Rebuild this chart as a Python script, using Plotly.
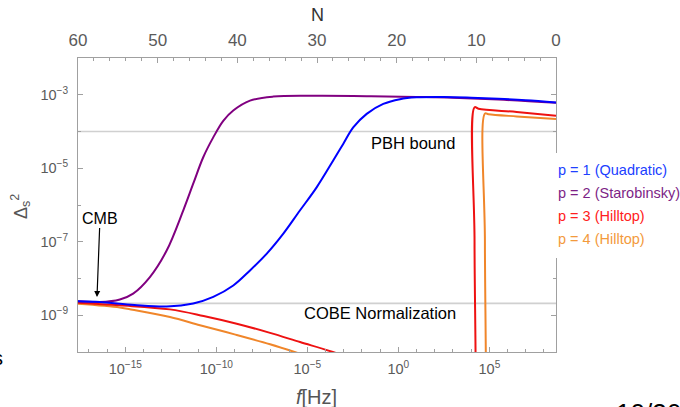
import numpy as np
import plotly.graph_objects as go

# ---------------- data (log10 of f[Hz] and log10 of Delta_s^2) -------------
blue_logf = [-17.6, -16.4, -14.5, -12.73, -11.27, -10.17, -9.07, -8.15, -7.24, -6.32, -5.41, -4.49,
             -3.58, -3.03, -2.48, -1.74, -0.83, 0.09, 1.0, 2.5, 4.0, 5.5, 7.0, 8.66]
blue_logP = [-8.62, -8.64, -8.72, -8.76, -8.68, -8.50, -8.19, -7.78, -7.33, -6.78, -6.15, -5.52,
             -4.79, -4.34, -3.89, -3.52, -3.25, -3.12, -3.07, -3.06, -3.08, -3.11, -3.15, -3.21]

purple_logf = [-17.6, -16.4, -15.3, -14.57, -13.65, -12.73, -11.82, -11.27, -10.72, -10.17, -9.62,
               -9.07, -8.15, -6.87, -4.49, -1.5, 1.0, 3.0, 5.5, 8.66]
purple_logP = [-8.62, -8.64, -8.57, -8.41, -7.96, -7.24, -6.15, -5.42, -4.70, -4.16, -3.71,
               -3.43, -3.16, -3.05, -3.03, -3.04, -3.06, -3.08, -3.13, -3.22]

red_logf = [-17.6, -15.3, -12.55, -10.7, -8.88, -7.05, -5.4, -3.6, -1.0, 2.0, 4.1, 4.18,
            4.185, 4.19, 4.4, 6.5, 8.66]
red_logP = [-8.66, -8.73, -8.84, -9.02, -9.23, -9.48, -9.73, -10.0, -10.45, -11.1, -11.6, -11.7,
            -7.0, -3.34, -3.38, -3.47, -3.57]

orange_logf = [-17.6, -15.3, -14.6, -12.55, -10.9, -9.0, -7.05, -5.7, -3.0, 0.0, 4.68, 4.75,
               4.755, 4.76, 4.95, 6.5, 8.66]
orange_logP = [-8.69, -8.79, -8.85, -9.05, -9.27, -9.52, -9.79, -10.0, -10.45, -11.0, -11.8, -11.9,
               -7.0, -3.51, -3.53, -3.59, -3.66]

series_names = ["p = 1 (Quadratic)", "p = 2 (Starobinsky)", "p = 3 (Hilltop)", "p = 4 (Hilltop)"]
line_colors = ["#0000ff", "#800080", "#ee1111", "#f0862a"]
text_colors = ["#2040ff", "#7d1f86", "#ff2020", "#f39a3c"]

pbh_bound = 1e-4
cobe_norm = 2.1e-9

x_tick_exps = [-15, -10, -5, 0, 5]
y_tick_exps = [-3, -5, -7, -9]
N_ticks = [60, 50, 40, 30, 20, 10, 0]

f_range_log = [-17.6, 8.66]
P_range_log = [-10, -2]

# ---------------- figure -------------
fig = go.Figure()

def tenpow(a):
    return list(10.0 ** np.array(a, dtype=float))

# reference lines
for val in (pbh_bound, cobe_norm):
    fig.add_trace(go.Scatter(x=[10 ** f_range_log[0], 10 ** f_range_log[1]], y=[val, val],
                             mode="lines", line=dict(color="#d0d0d0", width=1.6),
                             hoverinfo="skip", showlegend=False))

order = [(orange_logf, orange_logP, 3), (red_logf, red_logP, 2),
         (purple_logf, purple_logP, 1), (blue_logf, blue_logP, 0)]
for lf, lp, i in order:
    fig.add_trace(go.Scatter(x=tenpow(lf), y=tenpow(lp), mode="lines", name=series_names[i],
                             line=dict(color=line_colors[i], width=2, shape="spline", smoothing=1.0),
                             showlegend=False))

# dummy trace for the top N axis
fig.add_trace(go.Scatter(x=[60, 0], y=[1e-30, 1e-30], xaxis="x2", mode="lines",
                         line=dict(width=0), hoverinfo="skip", showlegend=False))

FONT = "Liberation Sans, Arial, Helvetica, sans-serif"
AXC = "#a0a0a0"
TICKC = "#5a5a5a"

def sup(e):
    return "10<sup>" + ("\u2212" + str(-e) if e < 0 else str(e)) + "</sup>"

fig.update_layout(
    width=680, height=407,
    margin=dict(l=78, r=124, t=58, b=55),
    paper_bgcolor="white", plot_bgcolor="white",
    font=dict(family=FONT, color=TICKC),
    xaxis=dict(type="log", range=f_range_log, showgrid=False, zeroline=False,
               showline=True, linecolor=AXC, linewidth=1, mirror=False,
               ticks="inside", ticklen=5, tickcolor=AXC, tickwidth=1,
               tickvals=[10.0 ** e for e in x_tick_exps], ticktext=[sup(e) for e in x_tick_exps],
               tickfont=dict(size=14.5, color=TICKC), ticklabelstandoff=4,
               minor=dict(tickvals=[10.0 ** e for e in range(-17, 9)], ticklen=3,
                          tickcolor=AXC, tickwidth=1, ticks="inside", showgrid=False)),
    xaxis2=dict(overlaying="x", side="top", range=[60, 0], showgrid=False, zeroline=False,
                showline=True, linecolor=AXC, linewidth=1, anchor="y",
                ticks="inside", ticklen=5, tickcolor=AXC, tickwidth=1,
                tickvals=N_ticks, ticktext=[str(n) for n in N_ticks],
                tickfont=dict(size=17, color=TICKC), ticklabelstandoff=4,
                minor=dict(tickvals=list(range(0, 61, 2)), ticklen=3, tickcolor=AXC,
                           tickwidth=1, ticks="inside", showgrid=False)),
    yaxis=dict(type="log", range=P_range_log, showgrid=False, zeroline=False,
               showline=True, linecolor=AXC, linewidth=1, mirror="ticks",
               ticks="inside", ticklen=5, tickcolor=AXC, tickwidth=1,
               tickvals=[10.0 ** e for e in y_tick_exps], ticktext=[sup(e) for e in y_tick_exps],
               tickfont=dict(size=14.5, color=TICKC), ticklabelstandoff=6,
               minor=dict(tickvals=[10.0 ** e for e in range(-10, -1)], ticklen=3,
                          tickcolor=AXC, tickwidth=1, ticks="inside", showgrid=False)),
)

def px(x):
    return (x - 78) / 478.0

def py(y):
    return (352 - y) / 294.0

# white legend box covering the frame
fig.add_shape(type="rect", xref="paper", yref="paper", x0=px(549), x1=px(690),
              y0=py(258), y1=py(153), fillcolor="white", line=dict(width=0), layer="above")

ann = []
legend_y = [170, 193, 216, 239]
for i in range(4):
    ann.append(dict(xref="paper", yref="paper", x=px(556), y=py(legend_y[i]), xanchor="left",
                    yanchor="middle", text=series_names[i], showarrow=False,
                    font=dict(size=14.5, color=text_colors[i], family=FONT)))

def label(x, y, text, size, color="black", xa="center", ya="middle", **kw):
    d = dict(xref="paper", yref="paper", x=px(x), y=py(y), text=text, showarrow=False,
             xanchor=xa, yanchor=ya, font=dict(size=size, color=color, family=FONT))
    d.update(kw)
    return d

# in-plot labels
ann.append(label(413, 143, "PBH bound", 16.5))
ann.append(label(380, 313, "COBE Normalization", 16.5))
ann.append(dict(xref="paper", yref="paper", x=px(97), y=py(297), ax=3, ay=-79,
                xanchor="center", yanchor="middle",
                text="CMB", showarrow=True, arrowhead=2, arrowsize=1, arrowwidth=1.2,
                arrowcolor="black", standoff=0, startstandoff=0,
                font=dict(size=16, color="black", family=FONT)))

# axis titles
ann.append(label(317, 15, "N", 18, "#333333"))
ann.append(label(316, 397, "<i>f</i>[Hz]", 20, "#555555"))
ann.append(label(20, 207, "\u0394<sub>s</sub><sup>2</sup>", 18, "#555555", textangle=-90))

# slide fragments
ann.append(label(5, 358, "s", 20, "black", xa="right"))
ann.append(label(614, 396, "10/36", 26, "black", xa="left", ya="top"))

fig.update_layout(annotations=ann)

fig.write_html("out.html", config={"displayModeBar": False},
               post_script="document.body.style.margin='0';")
